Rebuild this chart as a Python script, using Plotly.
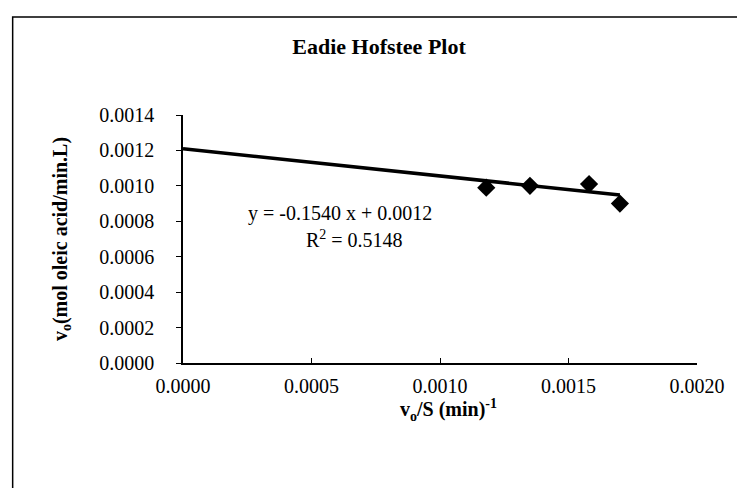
import plotly.graph_objects as go

# Data
x_vals = [0.00118, 0.00135, 0.00158, 0.00170]
y_vals = [0.00099, 0.00100, 0.00101, 0.00090]

# Trendline as reported on the chart
trend_slope = -0.1540
trend_intercept = 0.00121
trend_x = [0.0, 0.00170]

x_ticks = [0.0, 0.0005, 0.0010, 0.0015, 0.0020]
x_tick_labels = ["0.0000", "0.0005", "0.0010", "0.0015", "0.0020"]
y_ticks = [0.0, 0.0002, 0.0004, 0.0006, 0.0008, 0.0010, 0.0012, 0.0014]
y_tick_labels = ["0.0000", "0.0002", "0.0004", "0.0006", "0.0008", "0.0010", "0.0012", "0.0014"]

FONT = "Liberation Serif"

fig = go.Figure()
fig.add_trace(go.Scatter(
    x=trend_x,
    y=[trend_slope * v + trend_intercept for v in trend_x],
    mode="lines",
    line=dict(color="black", width=3.5),
    showlegend=False,
    hoverinfo="skip",
))
fig.add_trace(go.Scatter(
    x=x_vals, y=y_vals, mode="markers",
    marker=dict(symbol="diamond", size=14, color="black"),
    showlegend=False,
))

fig.update_layout(
    width=737, height=488,
    margin=dict(l=183, r=38, t=115, b=125),
    paper_bgcolor="white", plot_bgcolor="white",
    font=dict(family=FONT, color="black", size=20),
    title=dict(text="<b>Eadie Hofstee Plot</b>", x=379/737, xanchor="center",
               y=1 - 46/488, yanchor="middle",
               font=dict(family=FONT, size=22, color="black")),
    xaxis=dict(range=[0, 0.0020], tickvals=x_ticks, ticktext=x_tick_labels,
               showgrid=False, zeroline=False, showline=True, linecolor="black",
               linewidth=1.5, ticks="inside", ticklen=5, tickcolor="black",
               tickfont=dict(family=FONT, size=20), ticklabelstandoff=4),
    yaxis=dict(range=[0, 0.0014], tickvals=y_ticks, ticktext=y_tick_labels,
               showgrid=False, zeroline=False, showline=True, linecolor="black",
               linewidth=1.5, ticks="outside", ticklen=5, tickcolor="black",
               tickfont=dict(family=FONT, size=20), ticklabelstandoff=18,
               title=dict(text="<b>v<sub>o</sub>(mol oleic acid/min.L)</b>",
                          font=dict(family=FONT, size=20), standoff=26)),
    annotations=[
        dict(text="<b>v<sub>o</sub>/S (min)<sup>-1</sup></b>", xref="paper", yref="paper",
             x=(450 - 183) / 516, y=(363 - 410) / 248, xanchor="center", yanchor="middle",
             showarrow=False, font=dict(family=FONT, size=20)),
        dict(text="y = -0.1540 x + 0.0012", xref="paper", yref="paper",
             x=(341 - 183) / 516, y=(363 - 213) / 248, xanchor="center", yanchor="middle",
             showarrow=False, font=dict(family=FONT, size=20)),
        dict(text="R<sup>2</sup> = 0.5148", xref="paper", yref="paper",
             x=(355 - 183) / 516, y=(363 - 239) / 248, xanchor="center", yanchor="middle",
             showarrow=False, font=dict(family=FONT, size=20)),
    ],
    shapes=[
        dict(type="rect", xref="paper", yref="paper",
             x0=(12 - 183) / 516, x1=(745 - 183) / 516,
             y0=(363 - 500) / 248, y1=(363 - 17) / 248,
             line=dict(color="black", width=1.5), fillcolor="rgba(0,0,0,0)", layer="below"),
    ],
)

fig.write_html("out.html")
